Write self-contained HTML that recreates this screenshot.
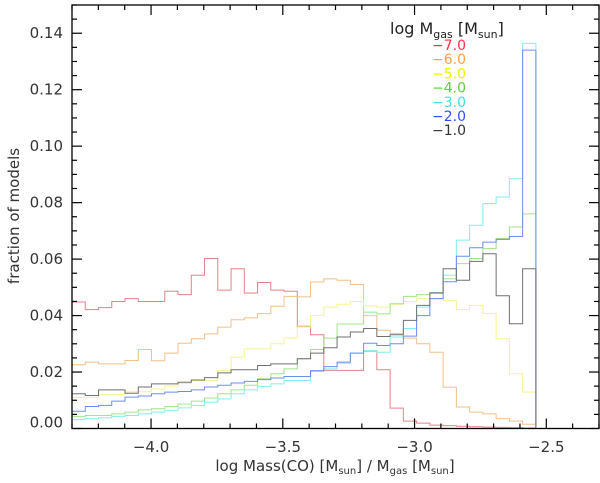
<!DOCTYPE html>
<html><head><meta charset="utf-8"><style>
html,body{margin:0;padding:0;background:#fff;}
svg text{font-family:"DejaVu Sans","Liberation Sans",sans-serif;}
</style></head><body>
<svg id="chart" width="600" height="478" viewBox="0 0 600 478" xmlns="http://www.w3.org/2000/svg">
<g id="series"></g>
<g id="axes"></g>
<g id="legend"></g>
</svg>
<script>
const binStart = -4.30;
const binWidth = 0.0503;
const seriesLabels = ["\u22127.0","\u22126.0","\u22125.0","\u22124.0","\u22123.0","\u22122.0","\u22121.0"];
const seriesM7 = [0.0448,0.0421,0.0428,0.045,0.046,0.045,0.045,0.0486,0.0474,0.0543,0.0602,0.049,0.0566,0.048,0.0517,0.049,0.0486,0.0362,0.0332,0.0206,0.0206,0.0206,0.0274,0.0208,0.0072,0.0026,0.0019,0.0012,0.0010,0.0008,0.0006,0.0005,0.0004,0.0003,0.0002];
const seriesM6 = [0.0226,0.0235,0.0229,0.0229,0.0241,0.028,0.024,0.0267,0.0302,0.0318,0.0335,0.0359,0.0385,0.0392,0.0407,0.0433,0.0468,0.0466,0.0519,0.053,0.0525,0.051,0.040,0.0348,0.0336,0.032,0.030,0.027,0.0146,0.0076,0.0058,0.0052,0.0035,0.0026,0.0015];
const seriesM5 = [0.011,0.011,0.012,0.012,0.013,0.013,0.014,0.015,0.016,0.017,0.017,0.0206,0.0253,0.0282,0.0282,0.030,0.032,0.036,0.040,0.043,0.044,0.045,0.0434,0.043,0.044,0.045,0.046,0.046,0.0454,0.0421,0.0436,0.0407,0.0318,0.0194,0.0129];
const seriesM4 = [0.0043,0.0046,0.0046,0.0052,0.0058,0.0066,0.007,0.0078,0.0087,0.0097,0.0108,0.0123,0.0137,0.0153,0.0176,0.0194,0.0211,0.0247,0.028,0.032,0.037,0.037,0.0412,0.0406,0.0442,0.0468,0.0474,0.0478,0.053,0.0584,0.0602,0.0637,0.0673,0.0714,0.076];
const seriesM3 = [0.0031,0.0035,0.0038,0.0043,0.0046,0.0052,0.0058,0.0064,0.0073,0.0082,0.0093,0.0105,0.0123,0.0137,0.0149,0.0158,0.0170,0.017,0.0202,0.0211,0.0231,0.0267,0.0276,0.027,0.0324,0.0354,0.043,0.046,0.0543,0.0667,0.072,0.0797,0.082,0.0885,0.1364];
const seriesM2 = [0.0061,0.0078,0.0082,0.0097,0.0111,0.0115,0.0123,0.0129,0.0131,0.0137,0.0147,0.0153,0.0161,0.0167,0.0173,0.0179,0.0184,0.0184,0.0205,0.0219,0.0235,0.0267,0.0302,0.0294,0.030,0.0327,0.040,0.046,0.052,0.061,0.064,0.066,0.067,0.068,0.134];
const seriesM1 = [0.0123,0.0117,0.0137,0.0137,0.0125,0.0147,0.0158,0.0158,0.0164,0.0172,0.018,0.0197,0.0208,0.0208,0.0223,0.0229,0.0229,0.0247,0.0267,0.0286,0.0324,0.0342,0.0354,0.0326,0.0332,0.0383,0.0436,0.0481,0.0566,0.0525,0.0592,0.0619,0.047,0.0371,0.0566];
const xTicks = [-4.0,-3.5,-3.0,-2.5];
const xTickLabels = ["\u22124.0","\u22123.5","\u22123.0","\u22122.5"];
const yTicks = [0,0.02,0.04,0.06,0.08,0.10,0.12,0.14];
const yTickLabels = ["0.00","0.02","0.04","0.06","0.08","0.10","0.12","0.14"];

const L=72,R=599,T=5,B=428.5, xmin=-4.3,xmax=-2.3,ymin=0,ymax=0.15;
const X=v=>L+(v-xmin)/(xmax-xmin)*(R-L);
const Y=v=>B-(v-ymin)/(ymax-ymin)*(B-T);
const NS="http://www.w3.org/2000/svg";
function mk(tag,attrs,parent){const e=document.createElementNS(NS,tag);for(const k in attrs)e.setAttribute(k,attrs[k]);parent.appendChild(e);return e;}

const lineColors=["#e8808a","#f2c08a","#f6f290","#a0e488","#84eeee","#6c8cf2","#707070"];
const textColors=["#ff3048","#ffa040","#f0f000","#60d040","#40e0e0","#3050ff","#333333"];
const allSeries=[seriesM7,seriesM6,seriesM5,seriesM4,seriesM3,seriesM2,seriesM1];
const sg=document.getElementById('series');
const defs=mk('defs',{},document.getElementById('chart'));
const cp=mk('clipPath',{id:'plotclip'},defs);
mk('rect',{x:L,y:T,width:R-L,height:B-T},cp);
sg.setAttribute('clip-path','url(#plotclip)');
allSeries.forEach((vals,si)=>{
  let d='M'+X(binStart).toFixed(2)+','+Y(vals[0]).toFixed(2);
  for(let i=0;i<vals.length;i++){
    if(i>0)d+=' V'+Y(vals[i]).toFixed(2);
    d+=' H'+X(binStart+binWidth*(i+1)).toFixed(2);
  }
  d+=' V'+Y(0).toFixed(2);
  const p=mk('path',{d:d,fill:'none',stroke:lineColors[si],'stroke-width':1},sg);
  
  
});

const ag=document.getElementById('axes');
const frame=mk('rect',{x:L,y:T,width:R-L,height:B-T,fill:'none',stroke:'#000','stroke-width':1.3},ag);


for(let k=-43;k<=-23;k++){
  const v=k/10, x=X(v), major=(k%5===0), len=major?10:5;
  mk('line',{x1:x,y1:B,x2:x,y2:B-len,stroke:'#000','stroke-width':1.2},ag);
  mk('line',{x1:x,y1:T,x2:x,y2:T+len,stroke:'#000','stroke-width':1.2},ag);
}
for(let k=0;k<=30;k++){
  const v=k*0.005, y=Y(v), major=(k%4===0), len=major?10:5;
  mk('line',{x1:L,y1:y,x2:L+len,y2:y,stroke:'#000','stroke-width':1.2},ag);
  mk('line',{x1:R,y1:y,x2:R-len,y2:y,stroke:'#000','stroke-width':1.2},ag);
}
xTicks.forEach((v,i)=>{
  const t=mk('text',{x:X(v),y:452,'text-anchor':'middle','font-size':15,fill:'#333'},ag);
  t.textContent=xTickLabels[i];
  
  
});
yTicks.forEach((v,i)=>{
  const yy=(i===0)?Y(v)-1:Y(v)+5;
  const t=mk('text',{x:63,y:yy,'text-anchor':'end','font-size':15,fill:'#333'},ag);
  t.textContent=yTickLabels[i];
  
  
});
const xt=mk('text',{x:335,y:471,'text-anchor':'middle','font-size':15,fill:'#333'},ag);
xt.innerHTML='log Mass(CO) [M<tspan font-size="10" dy="3">sun</tspan><tspan dy="-3">] / M</tspan><tspan font-size="10" dy="3">gas</tspan><tspan dy="-3"> [M</tspan><tspan font-size="10" dy="3">sun</tspan><tspan dy="-3">]</tspan>';


const yt=mk('text',{x:0,y:0,transform:'translate(19,216) rotate(-90)','text-anchor':'middle','font-size':15,fill:'#333'},ag);
yt.textContent='fraction  of  models';



const lg=document.getElementById('legend');
const lt=mk('text',{x:390,y:34,'font-size':16,fill:'#222'},lg);
lt.innerHTML='log M<tspan font-size="11" dy="4">gas</tspan><tspan dy="-4">  [M</tspan><tspan font-size="11" dy="4">sun</tspan><tspan dy="-4">]</tspan>';


seriesLabels.forEach((s,i)=>{
  const t=mk('text',{x:432,y:50+i*14.2,'font-size':14,fill:textColors[i]},lg);
  t.textContent=s;
  
  
});
</script>
</body></html>
